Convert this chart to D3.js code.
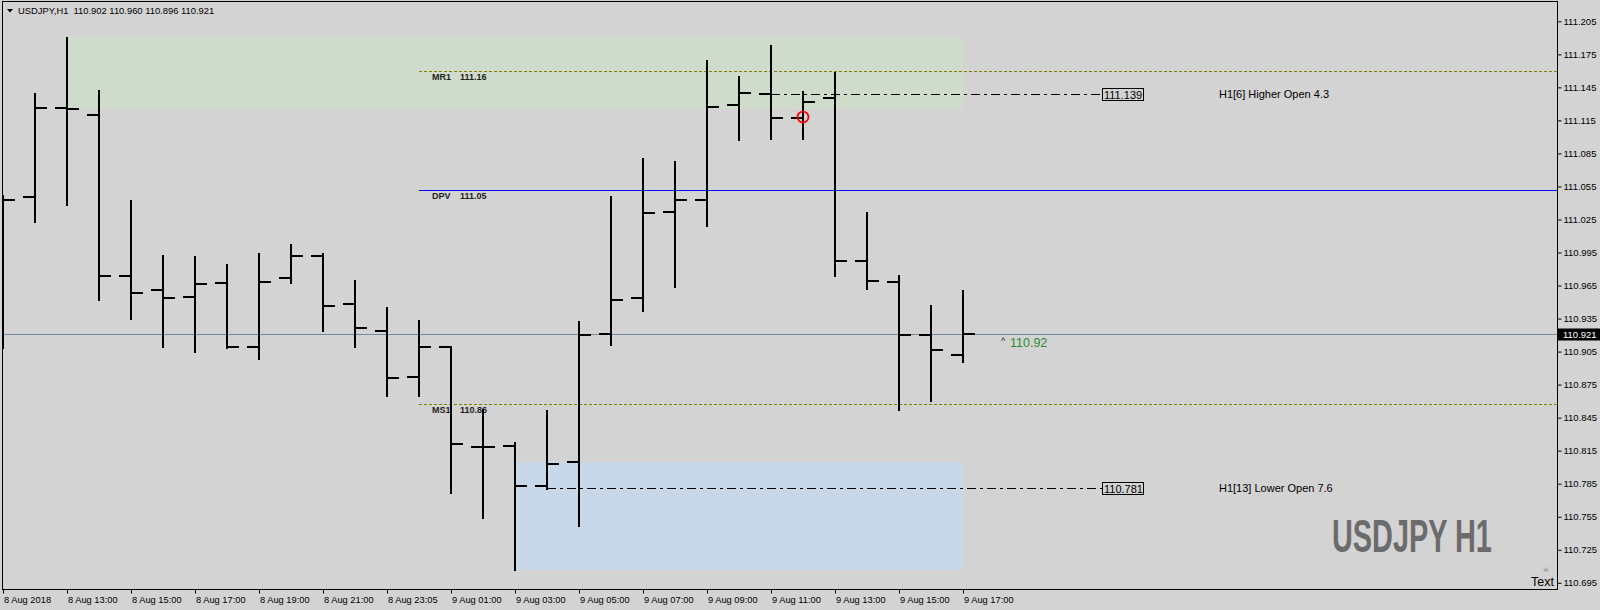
<!DOCTYPE html>
<html><head><meta charset="utf-8">
<script src="https://cdn.jsdelivr.net/npm/d3@7"></script>
<style>
html,body{margin:0;padding:0;background:#d3d3d3;}
svg{display:block;}
</style></head><body>
<svg id="chart" width="1600" height="610"></svg>
<script>
// ---------- data ----------
const barTimes = ["8 Aug 11:00","8 Aug 12:00","8 Aug 13:00","8 Aug 14:00","8 Aug 15:00","8 Aug 16:00","8 Aug 17:00","8 Aug 18:00","8 Aug 19:00","8 Aug 20:00","8 Aug 21:00","8 Aug 22:00","8 Aug 23:05","9 Aug 00:00","9 Aug 01:00","9 Aug 02:00","9 Aug 03:00","9 Aug 04:00","9 Aug 05:00","9 Aug 06:00","9 Aug 07:00","9 Aug 08:00","9 Aug 09:00","9 Aug 10:00","9 Aug 11:00","9 Aug 12:00","9 Aug 13:00","9 Aug 14:00","9 Aug 15:00","9 Aug 16:00","9 Aug 17:00"];
const openVals  = [111.043,111.045,111.126,111.120,110.974,110.961,110.955,110.967,110.909,110.972,110.992,110.948,110.924,110.882,110.909,110.818,110.819,110.783,110.805,110.921,110.954,111.032,111.043,111.129,111.139,111.117,111.135,110.987,110.968,110.920,110.902];
const highVals  = [111.046,111.139,111.190,111.142,111.042,110.992,110.991,110.984,110.994,111.002,110.994,110.969,110.945,110.933,110.909,110.852,110.822,110.851,110.932,111.045,111.080,111.077,111.169,111.154,111.183,111.141,111.158,111.031,110.974,110.946,110.960];
const lowVals   = [110.908,111.023,111.038,110.952,110.935,110.909,110.905,110.908,110.898,110.967,110.924,110.909,110.865,110.865,110.777,110.754,110.707,110.780,110.747,110.911,110.942,110.964,111.019,111.097,111.098,111.098,110.974,110.962,110.852,110.860,110.896];
const closeVals = [111.043,111.126,111.125,110.974,110.958,110.954,110.966,110.909,110.968,110.992,110.946,110.926,110.881,110.909,110.821,110.818,110.783,110.803,110.920,110.952,111.031,111.043,111.127,111.140,111.117,111.132,110.987,110.969,110.920,110.906,110.921];

const xTickIdx    = [0,2,4,6,8,10,12,14,16,18,20,22,24,26,28,30];
const xTickLabels = ["8 Aug 2018","8 Aug 13:00","8 Aug 15:00","8 Aug 17:00","8 Aug 19:00","8 Aug 21:00","8 Aug 23:05","9 Aug 01:00","9 Aug 03:00","9 Aug 05:00","9 Aug 07:00","9 Aug 09:00","9 Aug 11:00","9 Aug 13:00","9 Aug 15:00","9 Aug 17:00"];
const yTicks = [111.205,111.175,111.145,111.115,111.085,111.055,111.025,110.995,110.965,110.935,110.905,110.875,110.845,110.815,110.785,110.755,110.725,110.695];

const pivotNames  = ["MR1","DPV","MS1"];
const pivotValues = [111.160,111.052,110.857];
const pivotLabels = ["111.16","111.05","110.86"];

const zoneStart = [2,16];
const zoneEnd   = [30,30];
const zoneHigh  = [111.1905,110.8043];
const zoneLow   = [111.1255,110.7067];

const levelStart  = [24,17];
const levelValues = [111.139,110.781];
const levelBoxes  = ["111.139","110.781"];
const levelTexts  = ["H1[6] Higher Open 4.3","H1[13] Lower Open 7.6"];

const markIdx = 25;           // red circle bar
const markValue = 111.118;
const currentPrice = 110.921;
const titleText = "USDJPY,H1  110.902 110.960 110.896 110.921";
const bidLabel = "110.92";

// ---------- layout ----------
const svg = d3.select("#chart");
const L = 2.5, T = 1.5, R = 1557.5, B = 589.5;
const x = d3.scalePoint().domain(barTimes).range([3, 963]).padding(0);
const y = d3.scaleLinear().domain([110.695, 111.205]).range([582.8, 21.3]);
const py = v => Math.round(y(v));
const fontUI = "'Liberation Sans', Arial, sans-serif";

svg.append("rect").attr("width",1600).attr("height",610).attr("fill","#d3d3d3");

svg.append("defs").append("clipPath").attr("id","plot")
  .append("rect").attr("x",L).attr("y",T).attr("width",R-L).attr("height",B-T);
const plot = svg.append("g").attr("clip-path","url(#plot)");

// zones
plot.selectAll("rect.zone").data(zoneStart).join("rect").attr("class","zone")
  .attr("x",(d,i)=>x(barTimes[d]))
  .attr("y",(d,i)=>py(zoneHigh[i]))
  .attr("width",(d,i)=>x(barTimes[zoneEnd[i]])-x(barTimes[d]))
  .attr("height",(d,i)=>py(zoneLow[i])-py(zoneHigh[i]))
  .attr("fill",(d,i)=>i===0?"#d0dccb":"#c8d8e8");

// pivot lines
plot.selectAll("line.pivot").data(pivotValues).join("line").attr("class","pivot")
  .attr("x1",419).attr("x2",R)
  .attr("y1",d=>py(d)+0.5).attr("y2",d=>py(d)+0.5)
  .attr("stroke",(d,i)=>i===1?"#0000ff":"#808000")
  .attr("stroke-width",1)
  .attr("stroke-dasharray",(d,i)=>i===1?null:"3,2");
plot.selectAll("text.pname").data(pivotNames).join("text").attr("class","pname")
  .attr("x",432).attr("y",(d,i)=>py(pivotValues[i])+9)
  .attr("font-family",fontUI).attr("font-size",9).attr("font-weight","bold")
  .attr("fill","#1e1e1e").text(d=>d);
plot.selectAll("text.pval").data(pivotLabels).join("text").attr("class","pval")
  .attr("x",460).attr("y",(d,i)=>py(pivotValues[i])+9)
  .attr("font-family",fontUI).attr("font-size",9).attr("font-weight","bold")
  .attr("fill","#1e1e1e").text(d=>d);

// current price line
plot.append("line").attr("x1",L).attr("x2",R)
  .attr("y1",py(currentPrice)+0.5).attr("y2",py(currentPrice)+0.5)
  .attr("stroke","#778899").attr("stroke-width",1);

// dash-dot level lines
plot.selectAll("line.level").data(levelValues).join("line").attr("class","level")
  .attr("x1",(d,i)=>x(barTimes[levelStart[i]])).attr("x2",1102)
  .attr("y1",d=>py(d)+0.5).attr("y2",d=>py(d)+0.5)
  .attr("stroke","#000").attr("stroke-width",1).attr("stroke-dasharray","9,4,3,4");
plot.selectAll("rect.lbox").data(levelValues).join("rect").attr("class","lbox")
  .attr("x",1102.5).attr("y",d=>py(d)-5.5).attr("width",41).attr("height",12)
  .attr("fill","none").attr("stroke","#000").attr("stroke-width",1);
plot.selectAll("text.lboxt").data(levelBoxes).join("text").attr("class","lboxt")
  .attr("x",1104).attr("y",(d,i)=>py(levelValues[i])+4.5)
  .attr("font-family",fontUI).attr("font-size",11).attr("fill","#000").text(d=>d);
plot.selectAll("text.ltxt").data(levelTexts).join("text").attr("class","ltxt")
  .attr("x",1219).attr("y",(d,i)=>py(levelValues[i])+4)
  .attr("font-family",fontUI).attr("font-size",11).attr("fill","#000").text(d=>d);

// OHLC bars
const bars = plot.selectAll("g.bar").data(barTimes).join("g").attr("class","bar");
bars.append("line").attr("x1",d=>x(d)).attr("x2",d=>x(d))
  .attr("y1",(d,i)=>py(highVals[i])-1).attr("y2",(d,i)=>py(lowVals[i])+1)
  .attr("stroke","#000").attr("stroke-width",2);
bars.append("line").attr("x1",d=>x(d)-12).attr("x2",d=>x(d))
  .attr("y1",(d,i)=>py(openVals[i])).attr("y2",(d,i)=>py(openVals[i]))
  .attr("stroke","#000").attr("stroke-width",2);
bars.append("line").attr("x1",d=>x(d)).attr("x2",d=>x(d)+12)
  .attr("y1",(d,i)=>py(closeVals[i])).attr("y2",(d,i)=>py(closeVals[i]))
  .attr("stroke","#000").attr("stroke-width",2);

// red circle marker
plot.append("circle").attr("cx",x(barTimes[markIdx])).attr("cy",y(markValue))
  .attr("r",5.5).attr("fill","none").attr("stroke","#ff0000").attr("stroke-width",1.8);

// bid label
plot.append("text").attr("x",1001).attr("y",py(currentPrice)+10)
  .attr("font-family",fontUI).attr("font-size",9).attr("fill","#1a1a40").text("^");
plot.append("text").attr("x",1010).attr("y",py(currentPrice)+13)
  .attr("font-family",fontUI).attr("font-size",12.5).attr("fill","#2e8b2e").text(bidLabel);

// big watermark (scaled horizontally to its 160px width)
const wm = plot.append("text").attr("x",0).attr("y",0)
  .attr("font-family","'Liberation Sans Narrow','Liberation Sans',Arial,sans-serif")
  .attr("font-size",46).attr("font-weight","bold").attr("fill","#6b6b6b").text("USDJPY H1");
const wmW = wm.node().getComputedTextLength() || 160;
wm.attr("transform",`translate(1332,552) scale(${160/wmW},1)`);

// "Text" object with icon
plot.append("text").attr("x",1546).attr("y",572).attr("text-anchor","middle")
  .attr("font-family","'DejaVu Sans',sans-serif").attr("font-size",7).attr("fill","#777").text("☠");
plot.append("text").attr("x",1531).attr("y",586)
  .attr("font-family",fontUI).attr("font-size",12.5).attr("fill","#000").text("Text");

// frame
svg.append("rect").attr("x",L).attr("y",T).attr("width",R-L).attr("height",B-T)
  .attr("fill","none").attr("stroke","#000").attr("stroke-width",1);

// axes
const yAxis = svg.append("g").attr("transform",`translate(${R},0)`)
  .call(d3.axisRight(y).tickValues(yTicks).tickSize(4).tickPadding(2).tickFormat(d3.format(".3f")));
yAxis.select(".domain").remove();
yAxis.selectAll("line").attr("stroke","#000");
yAxis.selectAll("text").attr("font-family",fontUI).attr("font-size",9.5).attr("fill","#000");

const xAxis = svg.append("g").attr("transform",`translate(0,${B})`)
  .call(d3.axisBottom(x).tickValues(xTickIdx.map(i=>barTimes[i])).tickSize(4)
    .tickFormat((d,i)=>xTickLabels[i]));
xAxis.select(".domain").remove();
xAxis.selectAll("line").attr("stroke","#000");
xAxis.selectAll("text").attr("font-family",fontUI).attr("font-size",9.3).attr("fill","#000")
  .attr("text-anchor","start").attr("dx",0.5);

// current price tag on axis
svg.append("rect").attr("x",1558).attr("y",py(currentPrice)-5.5).attr("width",42).attr("height",12).attr("fill","#000");
svg.append("text").attr("x",1563).attr("y",py(currentPrice)+4).attr("font-family",fontUI)
  .attr("font-size",9.5).attr("fill","#fff").text(d3.format(".3f")(currentPrice));

// title
svg.append("path").attr("d","M7,9 L13,9 L10,12.5 Z").attr("fill","#000");
svg.append("text").attr("x",18).attr("y",14).attr("font-family",fontUI).attr("font-size",9.4)
  .attr("fill","#000").attr("xml:space","preserve").style("white-space","pre").text(titleText);
</script>
</body></html>
